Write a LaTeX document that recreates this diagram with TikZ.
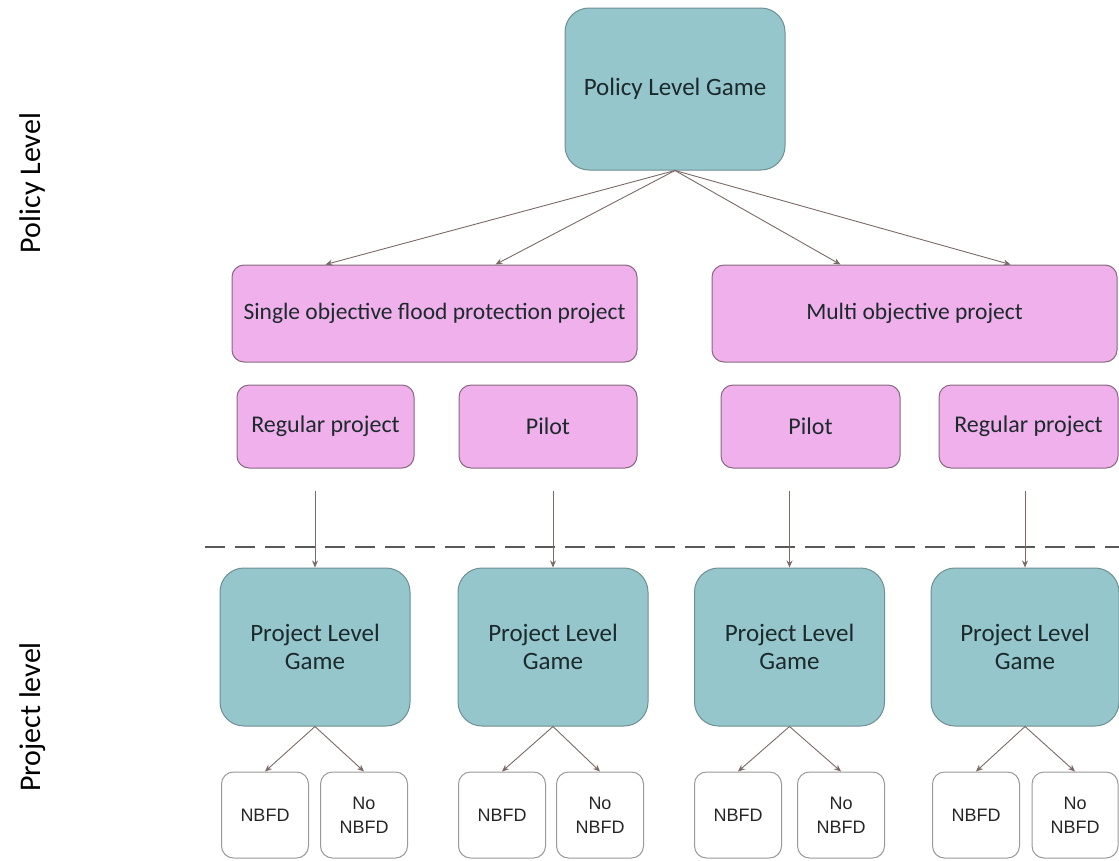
\documentclass[tikz,border=0pt]{standalone}
\usepackage{fontspec}
\setmainfont{Carlito}
\newfontfamily\boxsans{Liberation Sans}
\usetikzlibrary{positioning,arrows.meta}
\definecolor{gameteal}{HTML}{94C6CC}
\definecolor{gameedge}{HTML}{6F8F92}
\definecolor{pilotpink}{HTML}{F0B0EC}
\definecolor{pinkedge}{HTML}{86687F}
\definecolor{linkgray}{HTML}{7A6A66}
\definecolor{inkdark}{HTML}{1C2A2C}
\tikzset{
    >={Stealth[length=7pt,width=6pt]},
    game/.style={
        rectangle,
        rounded corners=24pt,
        draw=gameedge, line width=1pt,
        fill=gameteal,
        text=inkdark,
        align=center,
        font=\fontsize{25}{28}\selectfont
    },
    choice/.style={
        rectangle,
        rounded corners=12pt,
        draw=pinkedge, line width=1pt,
        fill=pilotpink,
        text=inkdark,
        align=center,
        minimum height=83pt,
        font=\fontsize{24}{27}\selectfont
    },
    outcome/.style={
        rectangle,
        rounded corners=12pt,
        draw=gray!80, line width=1pt,
        fill=white,
        text=black!85,
        align=center,
        minimum width=87pt,
        minimum height=86pt,
        font=\boxsans\fontsize{18}{24}\selectfont
    },
    link/.style={draw=linkgray, line width=0.9pt, ->},
    levelname/.style={rotate=90, font=\fontsize{30}{32}\selectfont}
}
\begin{document}
\begin{tikzpicture}[x=1pt, y=-1pt]
    \useasboundingbox (0,0) rectangle (1119,860);

    % policy level
    \node[game, minimum width=220pt, minimum height=162pt] (policy) at (675,89) {Policy Level Game};

    \node[choice, minimum width=405pt, minimum height=97pt, font=\fontsize{23.5}{27}\selectfont] (single) at (434.5,313.5) {Single objective flood protection project};
    \node[choice, minimum width=405pt, minimum height=97pt, font=\fontsize{23.5}{27}\selectfont] (multi) at (914.5,313.5) {Multi objective project};

    \node[choice, minimum width=177pt] (reg1) at (325.5,426.5) {Regular project};
    \node[choice, minimum width=178pt, right=44pt of reg1] (pilot1) {Pilot};
    \node[choice, minimum width=179pt] (pilot2) at (810.5,426.5) {Pilot};
    \node[choice, minimum width=179pt, right=38pt of pilot2] (reg2) {Regular project};

    \draw[link] (policy.south) -- ([xshift=-109pt]single.north);
    \draw[link] (policy.south) -- ([xshift=61pt]single.north);
    \draw[link] (policy.south) -- ([xshift=-74pt]multi.north);
    \draw[link] (policy.south) -- ([xshift=96pt]multi.north);

    % border between the two levels
    \coordinate (cut left) at (205,547);
    \coordinate (cut right) at (1119,547);
    \draw[gray!70!black, line width=1.5pt, dash pattern=on 20pt off 10pt] (cut left) -- (cut right);

    % project level
    \node[game, minimum width=190pt, minimum height=158pt] (game1) at (315,647) {Project Level\\Game};
    \node[game, minimum width=190pt, minimum height=158pt] (game2) at (553,647) {Project Level\\Game};
    \node[game, minimum width=190pt, minimum height=158pt] (game3) at (789.5,647) {Project Level\\Game};
    \node[game, minimum width=188pt, minimum height=158pt] (game4) at (1025,647) {Project Level\\Game};

    \draw[link] (game1.north) ++(0,-77) -- (game1.north);
    \draw[link] (game2.north) ++(0,-77) -- (game2.north);
    \draw[link] (game3.north) ++(0,-77) -- (game3.north);
    \draw[link] (game4.north) ++(0,-77) -- (game4.north);

    \node[outcome] (nbfd1) at (265,815) {NBFD};
    \node[outcome] (nonbfd1) at (364,815) {No\\NBFD};
    \node[outcome] (nbfd2) at (502,815) {NBFD};
    \node[outcome] (nonbfd2) at (600,815) {No\\NBFD};
    \node[outcome] (nbfd3) at (738,815) {NBFD};
    \node[outcome] (nonbfd3) at (841,815) {No\\NBFD};
    \node[outcome] (nbfd4) at (976,815) {NBFD};
    \node[outcome, minimum width=86pt] (nonbfd4) at (1075,815) {No\\NBFD};

    \draw[link] (game1.south) -- (nbfd1.north);
    \draw[link] (game1.south) -- (nonbfd1.north);
    \draw[link] (game2.south) -- (nbfd2.north);
    \draw[link] (game2.south) -- (nonbfd2.north);
    \draw[link] (game3.south) -- (nbfd3.north);
    \draw[link] (game3.south) -- (nonbfd3.north);
    \draw[link] (game4.south) -- (nbfd4.north);
    \draw[link] (game4.south) -- (nonbfd4.north);

    % level names
    \node[levelname] (policy level) at (33,183) {Policy Level};
    \node[levelname] (project level) at (33,717) {Project level};
\end{tikzpicture}
\end{document}
